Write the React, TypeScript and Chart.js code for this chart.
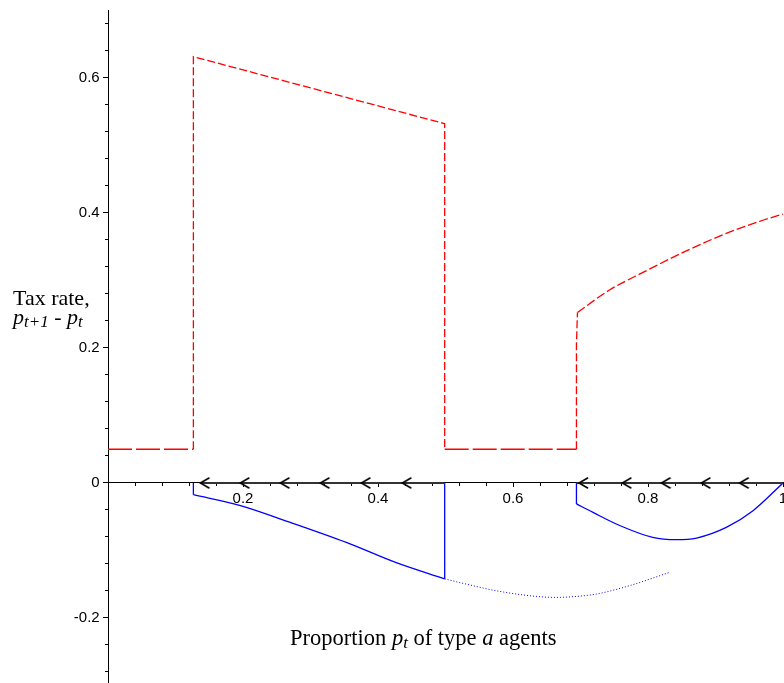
import React, { useEffect, useRef } from 'react';
import { Chart, registerables } from 'chart.js';

Chart.register(...registerables);

// ---- data ----
// red dashed: tax rate, straight / step part
const taxStepP = [0, 0.1265, 0.1265, 0.4988, 0.4988, 0.694, 0.694, 0.6955];
const taxStepV = [0.05, 0.05, 0.6316, 0.5323, 0.05, 0.05, 0.206, 0.2527];
// red dashed: tax rate, rising curve on the right
const taxCurveP = [0.6955, 0.743, 0.7926, 0.852, 0.916, 0.9655, 1.0];
const taxCurveV = [0.2527, 0.286, 0.312, 0.3416, 0.3698, 0.3876, 0.3985];

// blue solid: vertical drops from the axis at the jumps
const blueDropP = [0.1265, 0.4988, 0.694];
const blueDropV = [-0.0173, -0.142, -0.031];

// blue solid, left branch: p(t+1) - p(t)
const dynLeftP = [0.1265, 0.195, 0.269, 0.353, 0.427, 0.4988];
const dynLeftV = [-0.0173, -0.033, -0.058, -0.088, -0.118, -0.142];

// blue dotted continuation
const dynDotP = [0.4988, 0.526, 0.575, 0.625, 0.664, 0.689, 0.7235, 0.773, 0.832];
const dynDotV = [-0.142, -0.1487, -0.1596, -0.167, -0.1695, -0.1684, -0.1645, -0.152, -0.1324];

// blue solid, right branch
const dynRightP = [0.694, 0.7185, 0.758, 0.807, 0.842, 0.872, 0.916, 0.9556, 1.0];
const dynRightV = [-0.031, -0.0436, -0.063, -0.0806, -0.084, -0.0815, -0.0658, -0.041, 0];

// arrows on the axis (direction of motion)
const arrowP = [0.1369, 0.1961, 0.2554, 0.3147, 0.3754, 0.4361, 0.6978, 0.762, 0.82, 0.879, 0.9358];
const flowStartP = [0.1369, 0.694];
const flowEndP = [0.4988, 1.0];

// ticks
const xMajorTicks = [0.2, 0.4, 0.6, 0.8, 1];
const yMajorTicks = [-0.2, 0, 0.2, 0.4, 0.6];
const xMin = 0;
const xMax = 1;
const yMin = -0.2963;
const yMax = 0.7;
const minorStep = 0.04;

const pts = (xs: number[], ys: number[]) => xs.map((x, i) => ({ x, y: ys[i] }));

function flowPoints() {
  const out: { x: number; y: number | null }[] = [];
  flowStartP.forEach((s, i) => {
    if (i > 0) out.push({ x: (flowEndP[i - 1] + s) / 2, y: null });
    out.push({ x: s, y: 0 });
    out.push({ x: flowEndP[i], y: 0 });
  });
  return out;
}

function dropPoints() {
  const out: { x: number; y: number | null }[] = [];
  blueDropP.forEach((p, i) => {
    if (i > 0) out.push({ x: (blueDropP[i - 1] + p) / 2, y: null });
    out.push({ x: p, y: 0 });
    out.push({ x: p, y: blueDropV[i] });
  });
  return out;
}

function makeChevron(): HTMLCanvasElement {
  const c = document.createElement('canvas');
  c.width = 20;
  c.height = 14;
  const g = c.getContext('2d')!;
  g.strokeStyle = '#000';
  g.lineWidth = 1.6;
  g.beginPath();
  g.moveTo(19, 1.8);
  g.lineTo(10, 7);
  g.lineTo(19, 12.2);
  g.stroke();
  return c;
}

const serif = "'Liberation Serif', 'Times New Roman', serif";
const tickFont = { family: "'Liberation Sans Narrow', 'Liberation Sans', Arial, sans-serif", size: 15 };

type Run = { t: string; font: string; dy?: number };
function drawRuns(ctx: CanvasRenderingContext2D, runs: Run[], x: number, y: number) {
  let cx = x;
  for (const r of runs) {
    ctx.font = r.font;
    ctx.fillText(r.t, cx, y + (r.dy || 0));
    cx += ctx.measureText(r.t).width;
  }
}

const titlesPlugin = {
  id: 'titles',
  afterDraw(chart: any) {
    const ctx: CanvasRenderingContext2D = chart.ctx;
    ctx.save();
    ctx.fillStyle = '#000';
    ctx.textBaseline = 'alphabetic';
    ctx.textAlign = 'left';
    const big = `22px ${serif}`;
    const bigI = `italic 22px ${serif}`;
    const subI = `italic 17px ${serif}`;
    const xt = `22.5px ${serif}`;
    const xtI = `italic 22.5px ${serif}`;
    drawRuns(ctx, [{ t: 'Tax rate,', font: big }], 13, 305);
    drawRuns(
      ctx,
      [
        { t: 'p', font: bigI },
        { t: 't+1', font: subI, dy: 3 },
        { t: ' - ', font: big },
        { t: 'p', font: bigI },
        { t: 't', font: subI, dy: 3 },
      ],
      13,
      324
    );
    drawRuns(
      ctx,
      [
        { t: 'Proportion ', font: xt },
        { t: 'p', font: xtI },
        { t: 't', font: subI, dy: 3 },
        { t: ' of type ', font: xt },
        { t: 'a', font: xtI },
        { t: ' agents', font: xt },
      ],
      290,
      645
    );
    ctx.restore();
  },
};

const zeroPad = (s: any) => {
  s.paddingLeft = 0;
  s.paddingRight = 0;
  s.paddingTop = 0;
  s.paddingBottom = 0;
};

const RED = '#ff0000';
const BLUE = '#0000ff';

export default function App() {
  const ref = useRef<HTMLCanvasElement>(null);

  useEffect(() => {
    if (!ref.current) return;
    const chevron = makeChevron();
    const chart = new Chart(ref.current, {
      type: 'scatter',
      data: {
        datasets: [
          {
            label: 'arrows',
            data: arrowP.map((x) => ({ x, y: 0 })),
            showLine: false,
            pointStyle: chevron as any,
            pointRadius: 7,
          },
          {
            label: 'flow',
            data: flowPoints() as any,
            showLine: true,
            spanGaps: false,
            borderColor: '#333',
            borderWidth: 2,
            pointRadius: 0,
          },
          {
            label: 'tax (steps)',
            data: pts(taxStepP, taxStepV),
            showLine: true,
            borderColor: RED,
            borderWidth: 1.3,
            borderDash: [8, 3],
            pointRadius: 0,
            segment: {
              borderDash: (c: any) => (c.p0.parsed.y === c.p1.parsed.y ? [24, 4] : [8, 3]),
            },
          },
          {
            label: 'tax (curve)',
            data: pts(taxCurveP, taxCurveV),
            showLine: true,
            borderColor: RED,
            borderWidth: 1.3,
            borderDash: [9, 3],
            cubicInterpolationMode: 'monotone',
            pointRadius: 0,
          },
          {
            label: 'drops',
            data: dropPoints() as any,
            showLine: true,
            spanGaps: false,
            borderColor: BLUE,
            borderWidth: 1.3,
            pointRadius: 0,
          },
          {
            label: 'left',
            data: pts(dynLeftP, dynLeftV),
            showLine: true,
            borderColor: BLUE,
            borderWidth: 1.3,
            cubicInterpolationMode: 'monotone',
            pointRadius: 0,
          },
          {
            label: 'dotted',
            data: pts(dynDotP, dynDotV),
            showLine: true,
            borderColor: BLUE,
            borderWidth: 1,
            borderDash: [1, 2],
            cubicInterpolationMode: 'monotone',
            pointRadius: 0,
          },
          {
            label: 'right',
            data: pts(dynRightP, dynRightV),
            showLine: true,
            borderColor: BLUE,
            borderWidth: 1.3,
            cubicInterpolationMode: 'monotone',
            pointRadius: 0,
          },
        ],
      },
      options: {
        responsive: false,
        animation: false,
        devicePixelRatio: 1,
        layout: { autoPadding: false, padding: { left: 108, right: 1, top: 10.5, bottom: 0 } },
        plugins: { legend: { display: false }, tooltip: { enabled: false } },
        scales: {
          x: {
            type: 'linear',
            axis: 'x',
            min: xMin,
            max: xMax,
            position: { y: 0 } as any,
            grid: { drawOnChartArea: false, tickLength: 4, tickColor: '#000', tickWidth: 1 },
            border: { display: true, color: '#000', width: 1 },
            ticks: {
              color: '#000',
              font: tickFont,
              padding: 3,
              maxRotation: 0,
              autoSkip: false,
              callback: (v: any) => (v === 0 ? '' : String(v)),
            },
            afterBuildTicks: (s: any) => {
              s.ticks = xMajorTicks.map((value) => ({ value }));
            },
            afterFit: zeroPad,
          },
          xMinor: {
            type: 'linear',
            axis: 'x',
            min: xMin,
            max: xMax,
            position: { y: 0 } as any,
            grid: { drawOnChartArea: false, tickLength: 3, tickColor: '#000', tickWidth: 1 },
            border: { display: false },
            ticks: { display: false, stepSize: minorStep, autoSkip: false, includeBounds: false },
            afterFit: zeroPad,
          },
          y: {
            type: 'linear',
            axis: 'y',
            min: yMin,
            max: yMax,
            position: { x: 0 } as any,
            grid: { drawOnChartArea: false, tickLength: 5, tickColor: '#000', tickWidth: 1 },
            border: { display: true, color: '#000', width: 1 },
            ticks: {
              color: '#000',
              font: tickFont,
              padding: 3,
              autoSkip: false,
              // trailing spaces keep the right-aligned labels clear of the tick marks
              callback: (v: any) => String(v) + '  ',
            },
            afterBuildTicks: (s: any) => {
              s.ticks = yMajorTicks.map((value) => ({ value }));
            },
            afterFit: zeroPad,
          },
          yMinor: {
            type: 'linear',
            axis: 'y',
            min: yMin,
            max: yMax,
            position: { x: 0 } as any,
            grid: { drawOnChartArea: false, tickLength: 3, tickColor: '#000', tickWidth: 1 },
            border: { display: false },
            ticks: { display: false, stepSize: minorStep, autoSkip: false, includeBounds: false },
            afterFit: zeroPad,
          },
        },
      } as any,
      plugins: [titlesPlugin],
    });
    return () => chart.destroy();
  }, []);

  return (
    <div style={{ position: 'absolute', left: 0, top: 0, width: 784, height: 683, background: '#fff' }}>
      <canvas ref={ref} width={784} height={683} style={{ display: 'block', width: 784, height: 683 }} />
    </div>
  );
}
